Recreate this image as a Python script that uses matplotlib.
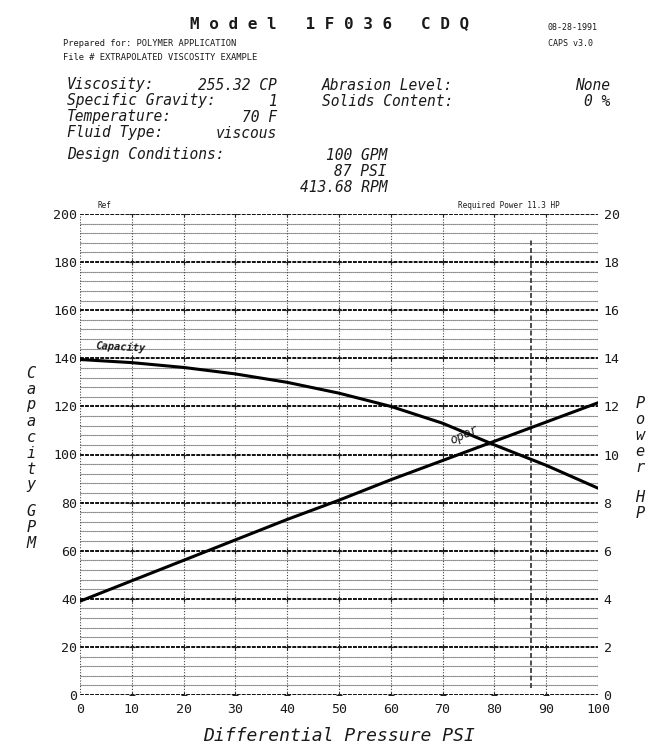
#!/usr/bin/env python
# -*- coding: utf-8 -*-

"""Pump performance curve: capacity and power versus differential pressure."""

import matplotlib
import matplotlib.pyplot as plt

matplotlib.use("Agg")

W, H = 659, 745

psi = [0, 10, 20, 30, 40, 50, 60, 70, 80, 90, 100]
capacity_gpm = [139.5, 138.2, 136.2, 133.5, 130.0, 125.5, 120.0, 113.0,
                104.0, 95.5, 86.0]
power_hp = [3.9, 4.75, 5.6, 6.45, 7.3, 8.1, 8.95, 9.75, 10.55, 11.35, 12.15]

design_psi = 87
gpm_ticks = list(range(0, 201, 20))
hp_ticks = list(range(0, 21, 2))
psi_ticks = list(range(0, 101, 10))

params_left = [("Viscosity:", "255.32 CP"),
               ("Specific Gravity:", "1"),
               ("Temperature:", "70 F"),
               ("Fluid Type:", "viscous")]
params_right = [("Abrasion Level:", "None"),
                ("Solids Content:", "0 %")]
design = ["100 GPM", "87 PSI", "413.68 RPM"]

MONO = "DejaVu Sans Mono"
INK = "#1a1a1a"


def px(x, y):
    """Pixel position in the reference to figure fraction."""
    return x / W, 1 - y / H


def put(x, y, s, **kw):
    kw.setdefault("family", MONO)
    kw.setdefault("color", INK)
    kw.setdefault("va", "center")
    fig.text(*px(x, y), s, **kw)


fig = plt.figure(figsize=(W / 100, H / 100), dpi=100)
ax = fig.add_axes([80 / W, 1 - 695 / H, (598 - 80) / W, (695 - 214) / H])
ax.set_xlim(0, 100)
ax.set_ylim(0, 200)
for sp in ax.spines.values():
    sp.set_visible(False)

# grid: every 4 GPM, heavier every 20
for y in range(0, 201, 4):
    if y % 20 == 0:
        ax.axhline(y, color="#111111", lw=1.4, ls=(0, (2, 0.6)), zorder=1)
    else:
        ax.axhline(y, color="#444444", lw=0.8, ls=(0, (1, 0.8)), zorder=1)
for x in psi_ticks:
    ax.axvline(x, color="#444444", lw=0.8, ls=(0, (1, 1.5)), zorder=1)
    if 0 < x < 100:
        ax.plot([x] * len(gpm_ticks), gpm_ticks, "+", color="#222222",
                ms=4, mew=0.8, zorder=2)
ax.vlines(design_psi, 3, 190, color="#303030", lw=1.2, ls=(0, (3, 1.5)),
          zorder=2)

ax.plot(psi, capacity_gpm, color="black", lw=2.2, zorder=3)

ax2 = ax.twinx()
ax2.set_ylim(0, 20)
for sp in ax2.spines.values():
    sp.set_visible(False)
ax2.plot(psi, power_hp, color="black", lw=2.2, zorder=3)

ax.set_xticks(psi_ticks)
ax.set_yticks(gpm_ticks)
ax2.set_yticks(hp_ticks)
ax.tick_params(length=0, labelsize=9.5, colors=INK, pad=2)
ax2.tick_params(length=0, labelsize=9.5, colors=INK, pad=4)
ax.tick_params(axis="x", pad=6)
for lab in ax.get_xticklabels() + ax.get_yticklabels() + ax2.get_yticklabels():
    lab.set_family(MONO)

ax.set_xlabel("Differential Pressure PSI", family=MONO, style="oblique",
              fontsize=13, color=INK, labelpad=8)

# curve labels
ax.text(3, 142, "Capacity", family=MONO, style="oblique", weight="bold",
        fontsize=7.5, color=INK, rotation=-3, va="bottom")
ax.text(71, 108, "oper", family=MONO, style="oblique", fontsize=9,
        color=INK, rotation=25, va="center")

# header
put(330, 24, "M o d e l   1 F 0 3 6   C D Q", ha="center", fontsize=11.5,
    weight="bold")
put(548, 27, "08-28-1991", fontsize=6)
put(548, 43, "CAPS v3.0", fontsize=6)
put(63, 44, "Prepared for: POLYMER APPLICATION", fontsize=6.3)
put(63, 58, "File # EXTRAPOLATED VISCOSITY EXAMPLE", fontsize=6.3)

for i, (k, v) in enumerate(params_left):
    y = 85 + i * 16
    put(67, y, k, style="oblique", fontsize=10.5)
    put(277, y, v, style="oblique", fontsize=10.5, ha="right")
for i, (k, v) in enumerate(params_right):
    y = 85 + i * 16
    put(322, y, k, style="oblique", fontsize=10.5)
    put(610, y, v, style="oblique", fontsize=10.5, ha="right")

put(67, 155, "Design Conditions:", style="oblique", fontsize=10.5)
for i, s in enumerate(design):
    put(387, 155 + i * 16, s, style="oblique", fontsize=10.5, ha="right")

put(97, 206, "Ref", fontsize=5.5)
put(560, 206, "Required Power 11.3 HP", fontsize=5.5, ha="right")

# stacked axis titles
for i, ch in enumerate("Capacity"):
    put(31, 373 + i * 16, ch, style="oblique", fontsize=11, ha="center")
for i, ch in enumerate("GPM"):
    put(31, 512 + i * 16, ch, style="oblique", fontsize=11, ha="center")
for i, ch in enumerate("Power"):
    put(640, 404 + i * 16, ch, style="oblique", fontsize=11, ha="center")
for i, ch in enumerate("HP"):
    put(640, 498 + i * 16, ch, style="oblique", fontsize=11, ha="center")

fig.savefig("out.png", dpi=100)
plt.close(fig)
